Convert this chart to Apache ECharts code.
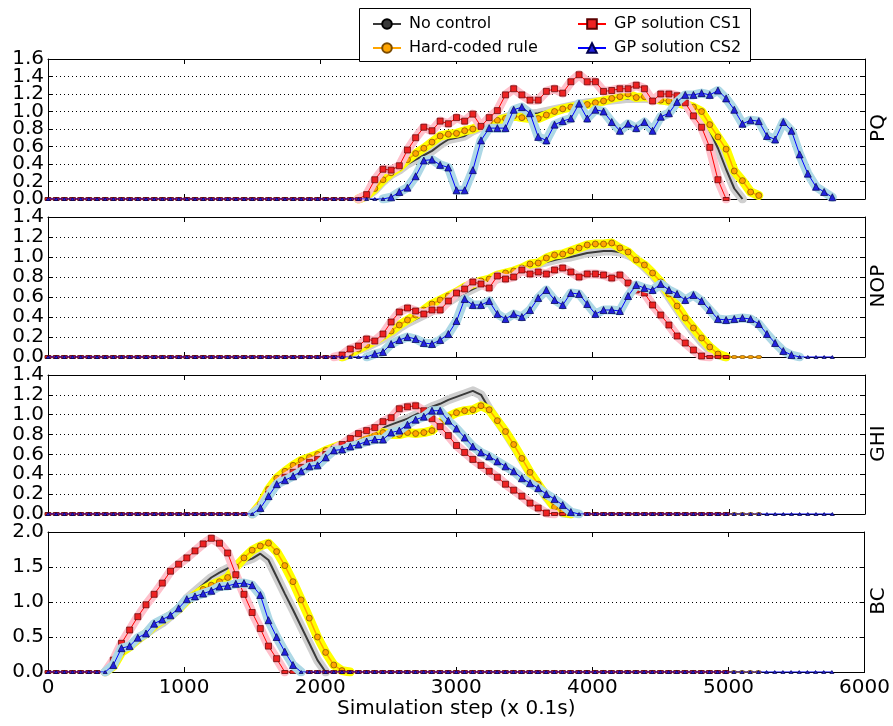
<!DOCTYPE html>
<html>
<head>
<meta charset="utf-8">
<title>Simulation step flow per link</title>
<script src="https://cdn.jsdelivr.net/npm/echarts@6.0.0/dist/echarts.min.js"></script>
<style>
html, body { margin: 0; padding: 0; background: #fff; }
#chart { width: 893px; height: 726px; }
</style>
</head>
<body>
<div id="chart"></div>
<script>
// sample grid of the simulation (one point every 60 steps)
var steps = [
    0, 60, 120, 180, 240, 300, 360, 420, 480, 540,
    600, 660, 720, 780, 840, 900, 960, 1020, 1080, 1140,
    1200, 1260, 1320, 1380, 1440, 1500, 1560, 1620, 1680, 1740,
    1800, 1860, 1920, 1980, 2040, 2100, 2160, 2220, 2280, 2340,
    2400, 2460, 2520, 2580, 2640, 2700, 2760, 2820, 2880, 2940,
    3000, 3060, 3120, 3180, 3240, 3300, 3360, 3420, 3480, 3540,
    3600, 3660, 3720, 3780, 3840, 3900, 3960, 4020, 4080, 4140,
    4200, 4260, 4320, 4380, 4440, 4500, 4560, 4620, 4680, 4740,
    4800, 4860, 4920, 4980, 5040, 5100, 5160, 5220, 5280, 5340,
    5400, 5460, 5520, 5580, 5640, 5700, 5760
];
var methods = ['No control', 'Hard-coded rule', 'GP solution CS1', 'GP solution CS2'];
var panels = ['PQ', 'NOP', 'GHI', 'BC'];
var yMax = [1.6, 1.4, 1.4, 2.0];
var yStep = [0.2, 0.2, 0.2, 0.5];
// y tick labels of each panel
var yTicks = [
    [0, 0.2, 0.4, 0.6, 0.8, 1.0, 1.2, 1.4, 1.6],
    [0, 0.2, 0.4, 0.6, 0.8, 1.0, 1.2, 1.4],
    [0, 0.2, 0.4, 0.6, 0.8, 1.0, 1.2, 1.4],
    [0, 0.5, 1.0, 1.5, 2.0]
];

// ---------- PQ ----------
var pqNoControl = [
    0, 0, 0, 0, 0, 0, 0, 0, 0, 0,
    0, 0, 0, 0, 0, 0, 0, 0, 0, 0,
    0, 0, 0, 0, 0, 0, 0, 0, 0, 0,
    0, 0, 0, 0, 0, 0, 0, 0, 0, 0.03,
    0.10, 0.20, 0.28, 0.33, 0.40, 0.45, 0.50, 0.55, 0.62, 0.68,
    0.70, 0.72, 0.78, 0.82, 0.86, 0.90, 0.93, 0.96, 0.97, 0.97,
    0.98, 1.00, 1.02, 1.04, 1.06, 1.08, 1.10, 1.11, 1.12, 1.13,
    1.14, 1.15, 1.15, 1.15, 1.14, 1.13, 1.12, 1.10, 1.08, 1.02,
    0.95, 0.78, 0.58, 0.34, 0.12, 0
];
var pqRule = [
    0, 0, 0, 0, 0, 0, 0, 0, 0, 0,
    0, 0, 0, 0, 0, 0, 0, 0, 0, 0,
    0, 0, 0, 0, 0, 0, 0, 0, 0, 0,
    0, 0, 0, 0, 0, 0, 0, 0, 0, 0.04,
    0.12, 0.22, 0.30, 0.36, 0.45, 0.52, 0.58, 0.65, 0.72, 0.74,
    0.75, 0.78, 0.80, 0.84, 0.88, 0.90, 0.92, 0.95, 0.93, 0.92,
    0.92, 0.96, 1.00, 1.03, 1.05, 1.06, 1.08, 1.10, 1.12, 1.15,
    1.17, 1.20, 1.16, 1.17, 1.15, 1.13, 1.12, 1.10, 1.08, 1.05,
    1.00, 0.85, 0.71, 0.57, 0.32, 0.21, 0.08, 0.04
];
var pqCS1 = [
    0, 0, 0, 0, 0, 0, 0, 0, 0, 0,
    0, 0, 0, 0, 0, 0, 0, 0, 0, 0,
    0, 0, 0, 0, 0, 0, 0, 0, 0, 0,
    0, 0, 0, 0, 0, 0, 0, 0, 0, 0.05,
    0.22, 0.34, 0.33, 0.38, 0.56, 0.70, 0.82, 0.78, 0.89, 0.86,
    0.93, 0.89, 0.97, 0.83, 0.93, 1.01, 1.19, 1.26, 1.19, 1.13,
    1.13, 1.23, 1.26, 1.21, 1.34, 1.42, 1.34, 1.34, 1.23, 1.24,
    1.26, 1.26, 1.30, 1.26, 1.12, 1.20, 1.20, 1.18, 1.10, 0.95,
    0.82, 0.59, 0.22, 0
];
var pqCS2 = [
    0, 0, 0, 0, 0, 0, 0, 0, 0, 0,
    0, 0, 0, 0, 0, 0, 0, 0, 0, 0,
    0, 0, 0, 0, 0, 0, 0, 0, 0, 0,
    0, 0, 0, 0, 0, 0, 0, 0, 0, 0,
    0, 0, 0.02, 0.08, 0.13, 0.26, 0.44, 0.45, 0.39, 0.36,
    0.10, 0.10, 0.33, 0.67, 0.81, 0.81, 0.81, 1.02, 1.05, 0.98,
    0.71, 0.67, 0.85, 0.89, 0.92, 1.09, 0.92, 1.02, 1.00, 0.88,
    0.78, 0.86, 0.81, 0.88, 0.78, 0.94, 0.98, 1.11, 1.19, 1.19,
    1.21, 1.19, 1.24, 1.15, 1.02, 0.86, 0.90, 0.89, 0.72, 0.68,
    0.88, 0.78, 0.51, 0.29, 0.14, 0.08, 0.02
];

// ---------- NOP ----------
var nopNoControl = [
    0, 0, 0, 0, 0, 0, 0, 0, 0, 0,
    0, 0, 0, 0, 0, 0, 0, 0, 0, 0,
    0, 0, 0, 0, 0, 0, 0, 0, 0, 0,
    0, 0, 0, 0, 0, 0, 0, 0.03, 0.07, 0.10,
    0.14, 0.18, 0.23, 0.29, 0.34, 0.38, 0.42, 0.46, 0.50, 0.55,
    0.60, 0.64, 0.68, 0.72, 0.75, 0.78, 0.81, 0.84, 0.87, 0.90,
    0.93, 0.95, 0.97, 0.99, 1.00, 1.02, 1.04, 1.05, 1.06, 1.06,
    1.05, 1.02, 0.98, 0.90, 0.82, 0.72, 0.60, 0.48, 0.36, 0.25,
    0.15, 0.07, 0.02, 0, 0, 0
];
var nopRule = [
    0, 0, 0, 0, 0, 0, 0, 0, 0, 0,
    0, 0, 0, 0, 0, 0, 0, 0, 0, 0,
    0, 0, 0, 0, 0, 0, 0, 0, 0, 0,
    0, 0, 0, 0, 0, 0, 0, 0.04, 0.08, 0.12,
    0.16, 0.21, 0.26, 0.32, 0.37, 0.42, 0.47, 0.53, 0.57, 0.61,
    0.65, 0.70, 0.73, 0.76, 0.78, 0.82, 0.84, 0.86, 0.89, 0.93,
    0.94, 0.99, 1.02, 1.03, 1.06, 1.09, 1.12, 1.13, 1.13, 1.14,
    1.09, 1.05, 0.97, 0.92, 0.84, 0.75, 0.63, 0.51, 0.39, 0.29,
    0.19, 0.10, 0.03, 0, 0, 0, 0, 0
];
var nopCS1 = [
    0, 0, 0, 0, 0, 0, 0, 0, 0, 0,
    0, 0, 0, 0, 0, 0, 0, 0, 0, 0,
    0, 0, 0, 0, 0, 0, 0, 0, 0, 0,
    0, 0, 0, 0, 0, 0, 0.02, 0.08, 0.11, 0.18,
    0.16, 0.23, 0.35, 0.45, 0.49, 0.46, 0.43, 0.47, 0.47, 0.56,
    0.64, 0.68, 0.75, 0.73, 0.69, 0.81, 0.78, 0.80, 0.87, 0.83,
    0.85, 0.83, 0.87, 0.89, 0.85, 0.80, 0.83, 0.83, 0.82, 0.79,
    0.82, 0.74, 0.67, 0.64, 0.52, 0.42, 0.32, 0.21, 0.14, 0.07,
    0.01, 0, 0, 0
];
var nopCS2 = [
    0, 0, 0, 0, 0, 0, 0, 0, 0, 0,
    0, 0, 0, 0, 0, 0, 0, 0, 0, 0,
    0, 0, 0, 0, 0, 0, 0, 0, 0, 0,
    0, 0, 0, 0, 0, 0, 0, 0, 0, 0,
    0.03, 0.05, 0.13, 0.17, 0.20, 0.18, 0.14, 0.13, 0.17, 0.23,
    0.36, 0.58, 0.52, 0.52, 0.56, 0.43, 0.38, 0.43, 0.40, 0.47,
    0.59, 0.67, 0.57, 0.52, 0.64, 0.63, 0.53, 0.43, 0.47, 0.47,
    0.46, 0.61, 0.72, 0.69, 0.67, 0.73, 0.67, 0.63, 0.57, 0.62,
    0.56, 0.47, 0.38, 0.37, 0.38, 0.39, 0.38, 0.33, 0.23, 0.14,
    0.06, 0.02, 0, 0, 0, 0, 0
];

// ---------- GHI ----------
var ghiNoControl = [
    0, 0, 0, 0, 0, 0, 0, 0, 0, 0,
    0, 0, 0, 0, 0, 0, 0, 0, 0, 0,
    0, 0, 0, 0, 0, 0, 0.08, 0.22, 0.33, 0.40,
    0.46, 0.50, 0.54, 0.58, 0.62, 0.66, 0.70, 0.74, 0.78, 0.81,
    0.84, 0.87, 0.90, 0.93, 0.96, 1.00, 1.04, 1.08, 1.11, 1.15,
    1.18, 1.21, 1.24, 1.20, 1.06, 0.94, 0.82, 0.69, 0.55, 0.41,
    0.29, 0.17, 0.07, 0.01, 0, 0, 0, 0, 0, 0,
    0, 0, 0, 0, 0, 0, 0, 0, 0, 0,
    0, 0, 0, 0, 0, 0
];
var ghiRule = [
    0, 0, 0, 0, 0, 0, 0, 0, 0, 0,
    0, 0, 0, 0, 0, 0, 0, 0, 0, 0,
    0, 0, 0, 0, 0, 0, 0.10, 0.25, 0.36, 0.43,
    0.49, 0.54, 0.57, 0.60, 0.64, 0.67, 0.70, 0.73, 0.76, 0.78,
    0.80, 0.82, 0.80, 0.80, 0.82, 0.81, 0.82, 0.84, 0.92, 0.98,
    1.02, 1.04, 1.05, 1.09, 1.05, 0.94, 0.83, 0.70, 0.56, 0.42,
    0.30, 0.18, 0.07, 0.02, 0, 0, 0, 0, 0, 0,
    0, 0, 0, 0, 0, 0, 0, 0, 0, 0,
    0, 0, 0, 0, 0, 0, 0, 0
];
var ghiCS1 = [
    0, 0, 0, 0, 0, 0, 0, 0, 0, 0,
    0, 0, 0, 0, 0, 0, 0, 0, 0, 0,
    0, 0, 0, 0, 0, 0, 0.07, 0.20, 0.30, 0.37,
    0.42, 0.47, 0.52, 0.55, 0.60, 0.65, 0.70, 0.76, 0.81, 0.84,
    0.87, 0.93, 0.97, 1.06, 1.08, 1.09, 1.04, 0.96, 0.88, 0.79,
    0.69, 0.62, 0.55, 0.49, 0.43, 0.37, 0.30, 0.24, 0.18, 0.11,
    0.06, 0.01, 0, 0, 0, 0, 0, 0, 0, 0,
    0, 0, 0, 0, 0, 0, 0, 0, 0, 0,
    0, 0, 0, 0
];
var ghiCS2 = [
    0, 0, 0, 0, 0, 0, 0, 0, 0, 0,
    0, 0, 0, 0, 0, 0, 0, 0, 0, 0,
    0, 0, 0, 0, 0, 0, 0.06, 0.18, 0.30, 0.34,
    0.38, 0.43, 0.48, 0.49, 0.57, 0.64, 0.65, 0.68, 0.70, 0.73,
    0.75, 0.75, 0.82, 0.84, 0.90, 0.95, 0.98, 1.04, 1.04, 0.94,
    0.86, 0.77, 0.68, 0.62, 0.58, 0.53, 0.48, 0.43, 0.36, 0.31,
    0.26, 0.20, 0.15, 0.09, 0.02, 0, 0, 0, 0, 0,
    0, 0, 0, 0, 0, 0, 0, 0, 0, 0,
    0, 0, 0, 0, 0, 0, 0, 0, 0, 0,
    0, 0, 0, 0, 0, 0, 0
];

// ---------- BC ----------
var bcNoControl = [
    0, 0, 0, 0, 0, 0, 0, 0, 0.10, 0.30,
    0.38, 0.46, 0.55, 0.63, 0.70, 0.80, 0.90, 1.05, 1.15, 1.25,
    1.35, 1.42, 1.48, 1.53, 1.58, 1.62, 1.69, 1.60, 1.36, 1.12,
    0.89, 0.65, 0.41, 0.17, 0, 0, 0, 0, 0, 0,
    0, 0, 0, 0, 0, 0, 0, 0, 0, 0,
    0, 0, 0, 0, 0, 0, 0, 0, 0, 0,
    0, 0, 0, 0, 0, 0, 0, 0, 0, 0,
    0, 0, 0, 0, 0, 0, 0, 0, 0, 0,
    0, 0, 0, 0, 0, 0
];
var bcRule = [
    0, 0, 0, 0, 0, 0, 0, 0, 0.08, 0.28,
    0.36, 0.47, 0.55, 0.66, 0.74, 0.81, 0.90, 1.02, 1.10, 1.18,
    1.24, 1.29, 1.35, 1.50, 1.63, 1.74, 1.80, 1.84, 1.72, 1.52,
    1.29, 1.03, 0.77, 0.50, 0.28, 0.10, 0.02, 0, 0, 0,
    0, 0, 0, 0, 0, 0, 0, 0, 0, 0,
    0, 0, 0, 0, 0, 0, 0, 0, 0, 0,
    0, 0, 0, 0, 0, 0, 0, 0, 0, 0,
    0, 0, 0, 0, 0, 0, 0, 0, 0, 0,
    0, 0, 0, 0, 0, 0, 0, 0
];
var bcCS1 = [
    0, 0, 0, 0, 0, 0, 0, 0, 0.17, 0.41,
    0.60, 0.79, 0.96, 1.11, 1.27, 1.44, 1.54, 1.63, 1.73, 1.83,
    1.91, 1.84, 1.70, 1.39, 1.11, 0.85, 0.62, 0.37, 0.19, 0,
    0, 0, 0, 0, 0, 0, 0, 0, 0, 0,
    0, 0, 0, 0, 0, 0, 0, 0, 0, 0,
    0, 0, 0, 0, 0, 0, 0, 0, 0, 0,
    0, 0, 0, 0, 0, 0, 0, 0, 0, 0,
    0, 0, 0, 0, 0, 0, 0, 0, 0, 0,
    0, 0, 0, 0
];
var bcCS2 = [
    0, 0, 0, 0, 0, 0, 0, 0, 0.10, 0.34,
    0.37, 0.49, 0.55, 0.69, 0.75, 0.81, 0.91, 1.04, 1.08, 1.12,
    1.16, 1.22, 1.23, 1.26, 1.27, 1.24, 1.10, 0.74, 0.50, 0.29,
    0.10, 0, 0, 0, 0, 0, 0, 0, 0, 0,
    0, 0, 0, 0, 0, 0, 0, 0, 0, 0,
    0, 0, 0, 0, 0, 0, 0, 0, 0, 0,
    0, 0, 0, 0, 0, 0, 0, 0, 0, 0,
    0, 0, 0, 0, 0, 0, 0, 0, 0, 0,
    0, 0, 0, 0, 0, 0, 0, 0, 0, 0,
    0, 0, 0, 0, 0, 0, 0
];

var values = [
    [pqNoControl, pqRule, pqCS1, pqCS2],
    [nopNoControl, nopRule, nopCS1, nopCS2],
    [ghiNoControl, ghiRule, ghiCS1, ghiCS2],
    [bcNoControl, bcRule, bcCS1, bcCS2]
];

// look of each method: line, error band, marker
var FONT = 'DejaVu Sans';
var lineColors = ['#3a3a3a', '#ffa500', '#ff0000', '#0000ff'];
var lineWidths = [2, 1.5, 1, 1];
var bandColors = ['#cfcfcf', '#ffff00', '#ffc0cb', '#add8e6'];
var markers = ['none', 'circle', 'rect', 'triangle'];
var markerFill = ['#3a3a3a', '#ffa500', '#ee2222', '#2222dd'];
var markerEdge = ['#000', '#7a4a00', '#5a0000', '#000050'];
var markerSize = [0, 6, 6, 7];
var zeroSize = [0, [6, 3], [6, 3], [4, 3]];

var gridTop = [59, 217, 375, 532];
var gridHeight = [140, 140, 139, 140];

var chart = echarts.init(document.getElementById('chart'), null, { renderer: 'canvas' });

var grids = [], xAxes = [], yAxes = [], series = [], graphics = [];

for (var p = 0; p < 4; p++) {
    grids.push({ left: 48, right: 28, top: gridTop[p], height: gridHeight[p] });

    var isLast = (p === 3);
    xAxes.push({
        gridIndex: p, type: 'value', min: 0, max: 6000, interval: 1000, position: 'bottom',
        axisLine: { show: true, onZero: false, lineStyle: { color: '#000', width: 1 } },
        axisTick: { show: true, inside: true, length: 5, lineStyle: { color: '#000' } },
        axisLabel: {
            show: isLast, fontSize: 20, color: '#000', fontFamily: FONT, margin: 6,
            showMinLabel: true, showMaxLabel: true,
            formatter: function (v) { return String(v); }
        },
        splitLine: { show: false },
        name: isLast ? 'Simulation step (x 0.1s)' : '',
        nameLocation: 'middle', nameGap: 27,
        nameTextStyle: { fontSize: 20, color: '#000', fontFamily: FONT }
    });
    xAxes.push({
        gridIndex: p, type: 'value', min: 0, max: 6000, interval: 1000, position: 'top',
        axisLine: { show: true, onZero: false, lineStyle: { color: '#000', width: 1 } },
        axisTick: { show: true, inside: true, length: 5, lineStyle: { color: '#000' } },
        axisLabel: { show: false },
        splitLine: { show: false }
    });
    // y labels are added below as text, ECharts would drop the crowded ones
    yAxes.push({
        gridIndex: p, type: 'value', min: 0, max: yMax[p], interval: yStep[p], position: 'left',
        axisLine: { show: true, onZero: false, lineStyle: { color: '#000', width: 1 } },
        axisTick: { show: true, inside: true, length: 5, lineStyle: { color: '#000' } },
        axisLabel: { show: false },
        splitLine: { show: true, lineStyle: { color: '#000', width: 1, type: [1, 3] } }
    });
    yAxes.push({
        gridIndex: p, type: 'value', min: 0, max: yMax[p], interval: yStep[p], position: 'right',
        axisLine: { show: true, onZero: false, lineStyle: { color: '#000', width: 1 } },
        axisTick: { show: true, inside: true, length: 5, lineStyle: { color: '#000' } },
        axisLabel: { show: false },
        splitLine: { show: false }
    });

    for (var m = 0; m < 4; m++) {
        var vals = values[p][m];
        var pts = [], band = [];
        for (var i = 0; i < vals.length; i++) {
            pts.push([steps[i], vals[i]]);
            // error band only where the flow is not flat at zero
            var near = vals[i] > 0 || vals[i - 1] > 0 || vals[i + 1] > 0;
            band.push([steps[i], near ? vals[i] : null]);
        }
        series.push({
            name: methods[m] + ' band', type: 'line',
            xAxisIndex: 2 * p, yAxisIndex: 2 * p,
            data: band, symbol: 'none', silent: true, connectNulls: false,
            lineStyle: { color: bandColors[m], width: 9, cap: 'round', join: 'round' },
            z: 10 + 2 * m
        });
        series.push({
            name: methods[m], type: 'line',
            xAxisIndex: 2 * p, yAxisIndex: 2 * p,
            data: pts, symbol: markers[m], silent: true,
            symbolSize: (function (mm) {
                return function (v) { return v[1] === 0 ? zeroSize[mm] : markerSize[mm]; };
            })(m),
            itemStyle: { color: markerFill[m], borderColor: markerEdge[m], borderWidth: 0.7 },
            lineStyle: { color: lineColors[m], width: lineWidths[m] },
            z: 11 + 2 * m
        });
    }

    // row label on the right side of the panel
    graphics.push({
        type: 'text', x: 879, y: gridTop[p] + gridHeight[p] / 2 - 1, rotation: Math.PI / 2, z: 40,
        style: {
            text: panels[p], fontSize: 20, fontFamily: FONT, fill: '#000',
            textAlign: 'center', textVerticalAlign: 'middle', textBaseline: 'middle'
        }
    });
}

// legend frame
graphics.push({
    type: 'rect', z: 39,
    shape: { x: 359.5, y: 8.5, width: 391, height: 53 },
    style: { fill: '#fff', stroke: '#000', lineWidth: 1 }
});

var legendText = { fontSize: 16, color: '#000', fontFamily: FONT, padding: [0, 0, 0, 3] };

var option = {
    animation: false,
    backgroundColor: '#fff',
    grid: grids,
    xAxis: xAxes,
    yAxis: yAxes,
    legend: [
        { left: 367, top: 11, orient: 'vertical', itemGap: 8, itemWidth: 28, itemHeight: 12,
          selectedMode: false, z: 50, textStyle: legendText, data: [methods[0], methods[1]] },
        { left: 572, top: 11, orient: 'vertical', itemGap: 8, itemWidth: 28, itemHeight: 12,
          selectedMode: false, z: 50, textStyle: legendText, data: [methods[2], methods[3]] }
    ],
    graphic: graphics,
    series: series
};
chart.setOption(option);

// y tick labels, placed with the axis scale of each panel
for (var q = 0; q < 4; q++) {
    for (var k = 0; k < yTicks[q].length; k++) {
        var py = chart.convertToPixel({ yAxisIndex: 2 * q }, yTicks[q][k]);
        graphics.push({
            type: 'text', x: 44, y: py, z: 40,
            style: {
                text: yTicks[q][k].toFixed(1), fontSize: 20, fontFamily: FONT, fill: '#000',
                textAlign: 'right', textVerticalAlign: 'middle', textBaseline: 'middle'
            }
        });
    }
}
chart.setOption({ graphic: graphics });
</script>
</body>
</html>
